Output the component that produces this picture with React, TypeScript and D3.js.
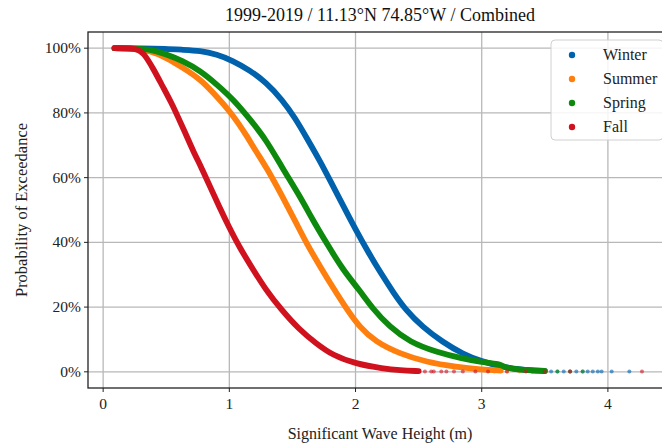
import React from "react";
import * as d3 from "d3";

// exceedance curves: wave height (m) and probability (%)
const winterH = [0.09, 0.3, 0.5, 0.63, 0.77, 0.9, 1.03, 1.16, 1.29, 1.42, 1.52, 1.61, 1.72, 1.8, 1.9, 2.0, 2.1, 2.2, 2.3, 2.4, 2.53, 2.69, 2.85, 3.0, 3.15, 3.3, 3.5];
const winterP = [100, 100, 99.8, 99.5, 99.2, 98.1, 96.1, 93.2, 89.5, 84.0, 78.5, 72.5, 65.0, 59.0, 51.5, 44.0, 37.0, 30.5, 24.5, 19.0, 13.9, 9.2, 5.5, 3.2, 1.6, 0.7, 0.2];

const summerH = [0.09, 0.25, 0.37, 0.5, 0.63, 0.77, 0.87, 0.98, 1.06, 1.14, 1.21, 1.3, 1.42, 1.53, 1.61, 1.72, 1.82, 1.93, 2.03, 2.16, 2.35, 2.56, 2.8, 3.0, 3.15];
const summerP = [100, 99.8, 99.2, 97.1, 94.0, 90.4, 86.3, 81.6, 77.5, 72.8, 68.2, 62.8, 54.2, 46.0, 39.8, 32.5, 26.1, 19.4, 13.9, 9.2, 5.6, 3.0, 1.5, 0.7, 0.4];

const springH = [0.09, 0.25, 0.37, 0.5, 0.63, 0.77, 0.9, 1.03, 1.16, 1.29, 1.42, 1.56, 1.66, 1.77, 1.9, 2.03, 2.14, 2.27, 2.43, 2.64, 2.85, 3.0, 3.14, 3.19, 3.3, 3.5];
const springP = [100, 99.9, 99.7, 98.1, 96.1, 93.0, 88.8, 84.2, 78.2, 71.8, 63.0, 54.2, 47.0, 39.8, 31.5, 25.3, 19.3, 13.9, 9.2, 6.1, 4.1, 3.0, 2.5, 1.2, 0.6, 0.3];

const fallH = [0.09, 0.26, 0.32, 0.4, 0.47, 0.54, 0.59, 0.65, 0.71, 0.78, 0.85, 0.92, 1.0, 1.08, 1.19, 1.29, 1.41, 1.55, 1.69, 1.82, 2.0, 2.22, 2.35, 2.5];
const fallP = [100, 100, 98.7, 93.5, 88.3, 83.2, 79.0, 73.9, 68.5, 63.0, 57.0, 51.0, 44.5, 38.5, 31.5, 25.3, 19.3, 13.2, 8.7, 5.1, 2.5, 1.0, 0.5, 0.2];

// sparse points in the tails, all close to 0%
const winterTail = [3.55, 3.6, 3.65, 3.7, 3.75, 3.8, 3.84, 3.88, 3.92, 3.95, 4.03, 4.17];
const summerTail = [3.1, 3.2, 3.3, 3.4, 3.5];
const springTail = [3.4, 3.5, 3.6, 3.7, 3.8];
const fallTail = [2.55, 2.6, 2.62, 2.68, 2.72, 2.78, 2.85, 2.95, 3.05, 3.2, 3.35, 3.5, 3.7, 4.27];

const seasons = ["Winter", "Summer", "Spring", "Fall"];
const colors = ["#0062ad", "#ff7f0e", "#0d8a0d", "#d0121f"];
const xTicks = [0, 1, 2, 3, 4];
const yTicks = [0, 20, 40, 60, 80, 100];

const W = 662, H = 446;
const left = 88, top = 32, bottom = 388, right = 671;
const font = "'Liberation Serif', 'Times New Roman', serif";

export default function App() {
  const x = d3.scaleLinear().domain([-0.12, 4.5]).range([left, right]);
  const y = d3.scaleLinear().domain([-5, 105]).range([bottom, top]);

  const series = [
    { h: winterH, p: winterP, tail: winterTail },
    { h: summerH, p: summerP, tail: summerTail },
    { h: springH, p: springP, tail: springTail },
    { h: fallH, p: fallP, tail: fallTail },
  ];

  const line = d3
    .line<[number, number]>()
    .x((d) => x(d[0]))
    .y((d) => y(d[1]))
    .curve(d3.curveBasis);

  return (
    <svg width={W} height={H} style={{ position: "absolute", left: 0, top: 0, background: "#fff" }}>
      <text x={380} y={21} textAnchor="middle" fontFamily={font} fontSize={18} fill="#111">
        1999-2019 / 11.13°N 74.85°W / Combined
      </text>

      {/* grid */}
      {xTicks.map((t) => (
        <line key={"gx" + t} x1={x(t)} x2={x(t)} y1={top} y2={bottom} stroke="#b8b8b8" strokeWidth={1.3} />
      ))}
      {yTicks.map((t) => (
        <line key={"gy" + t} x1={left} x2={right} y1={y(t)} y2={y(t)} stroke="#b8b8b8" strokeWidth={1.3} />
      ))}

      {/* curves */}
      {series.map((s, i) => (
        <g key={seasons[i]}>
          <path
            d={line(s.h.map((h, j) => [h, s.p[j]] as [number, number])) || ""}
            fill="none"
            stroke={colors[i]}
            strokeWidth={5.8}
            strokeLinecap="round"
            strokeLinejoin="round"
          />
          {s.tail.map((h, j) => (
            <circle key={j} cx={x(h)} cy={y(0.1)} r={2} fill={colors[i]} opacity={0.6} />
          ))}
        </g>
      ))}

      {/* axes frame */}
      <rect x={left} y={top} width={right - left} height={bottom - top} fill="none" stroke="#222" strokeWidth={1.3} />

      {xTicks.map((t) => (
        <g key={"tx" + t}>
          <line x1={x(t)} x2={x(t)} y1={bottom} y2={bottom + 4} stroke="#222" />
          <text x={x(t)} y={bottom + 21} textAnchor="middle" fontFamily={font} fontSize={15.5} fill="#222">
            {t}
          </text>
        </g>
      ))}
      {yTicks.map((t) => (
        <g key={"ty" + t}>
          <line x1={left - 4} x2={left} y1={y(t)} y2={y(t)} stroke="#222" />
          <text x={left - 7} y={y(t) + 5} textAnchor="end" fontFamily={font} fontSize={15.5} fill="#222">
            {t + "%"}
          </text>
        </g>
      ))}

      <text x={380} y={439} textAnchor="middle" fontFamily={font} fontSize={16} fill="#222">
        Significant Wave Height (m)
      </text>
      <text
        transform={`translate(27, ${(top + bottom) / 2}) rotate(-90)`}
        textAnchor="middle"
        fontFamily={font}
        fontSize={16.5}
        fill="#222"
      >
        Probability of Exceedance
      </text>

      {/* legend */}
      <rect x={551} y={40} width={112} height={100} rx={4} fill="#fff" fillOpacity={0.85} stroke="#d0d0d0" />
      {seasons.map((s, i) => (
        <g key={"lg" + s}>
          <circle cx={572} cy={55 + i * 24} r={3.2} fill={colors[i]} />
          <text x={603} y={60 + i * 24} fontFamily={font} fontSize={16} fill="#222">
            {s}
          </text>
        </g>
      ))}
    </svg>
  );
}
